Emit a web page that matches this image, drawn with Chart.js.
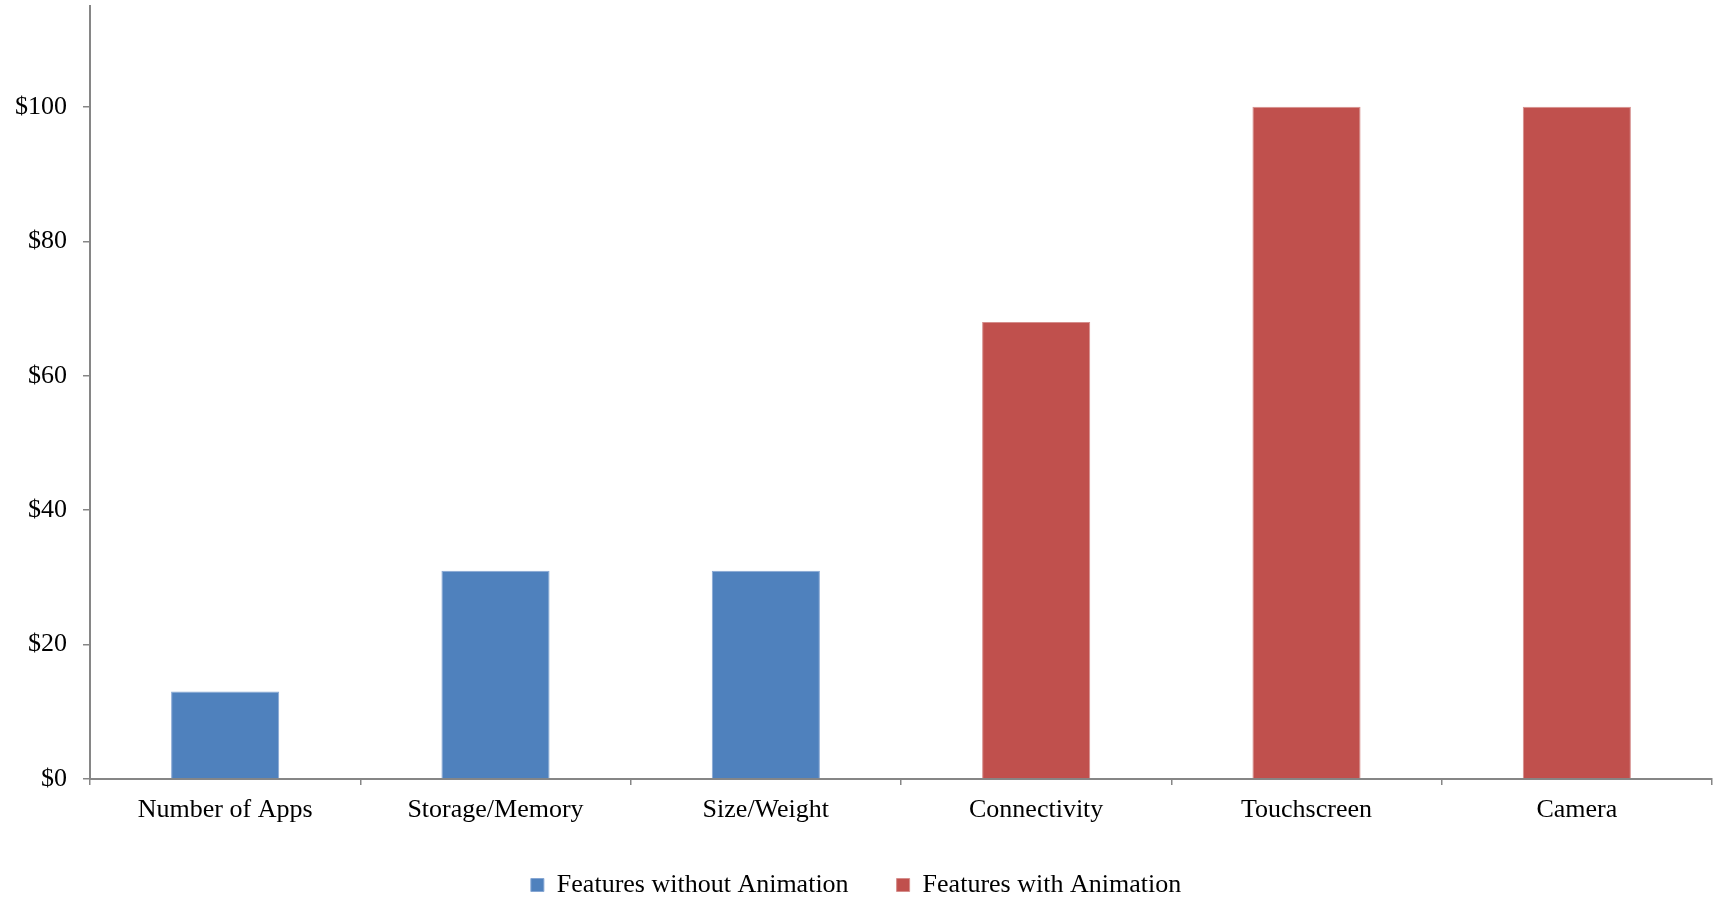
<!DOCTYPE html>
<html>
<head>
<meta charset="utf-8">
<script src="https://cdn.jsdelivr.net/npm/chart.js@4"></script>
<style>
  html, body { margin: 0; padding: 0; background: #fff; }
  #wrap { width: 1713px; height: 898px; }
</style>
</head>
<body>
<div id="wrap"><canvas id="featureChart"></canvas></div>
<script>
// Feature value in dollars, split into non-animated and animated features
const categories = ['Number of Apps', 'Storage/Memory', 'Size/Weight', 'Connectivity', 'Touchscreen', 'Camera'];
const withoutAnimation = [13, 31, 31, null, null, null];
const withAnimation = [null, null, null, 68, 100, 100];
const yTicks = [0, 20, 40, 60, 80, 100];

const serif = 'Liberation Serif, Times New Roman, serif';
const axisGrey = '#868686';

const ctx = document.getElementById('featureChart').getContext('2d');

const featureChart = new Chart(ctx, {
  type: 'bar',
  data: {
    labels: categories,
    datasets: [
      {
        label: 'Features without Animation',
        data: withoutAnimation,
        backgroundColor: '#4F81BD',
        borderColor: '#86A6D3',
        borderWidth: 1,
      },
      {
        label: 'Features with Animation',
        data: withAnimation,
        backgroundColor: '#C0504D',
        borderColor: '#D58E8C',
        borderWidth: 1,
      },
    ],
  },
  options: {
    responsive: true,
    maintainAspectRatio: false,
    animation: false,
    grouped: false,
    barPercentage: 0.4,
    categoryPercentage: 1.0,
    // legend sits a little lower than Chart.js places it by default
    layout: {
      padding: { left: 0, right: 1, top: 6, bottom: -10 },
    },
    plugins: {
      tooltip: { enabled: false },
      legend: {
        position: 'bottom',
        labels: {
          font: { family: serif, size: 26 },
          color: '#000',
          boxWidth: 13,
          boxHeight: 13,
          padding: 48,
        },
      },
    },
    scales: {
      x: {
        border: { color: axisGrey, width: 2 },
        grid: {
          drawOnChartArea: false,
          drawTicks: true,
          tickLength: 6,
          color: axisGrey,
          lineWidth: 1.5,
        },
        afterFit: (scale) => {
          scale.height = 45;
        },
        ticks: {
          font: { family: serif, size: 26 },
          color: '#000',
          padding: 10,
          maxRotation: 0,
        },
      },
      y: {
        min: 0,
        max: 115,
        border: { color: axisGrey, width: 2 },
        grid: {
          drawOnChartArea: false,
          drawTicks: true,
          tickLength: 7,
          color: axisGrey,
          lineWidth: 1.5,
        },
        afterBuildTicks: (scale) => {
          scale.ticks = yTicks.map((v) => ({ value: v }));
        },
        // fixed axis width, and no extra room above the plot for labels
        afterFit: (scale) => {
          scale.width = 90;
          scale.paddingTop = 0;
          scale.paddingBottom = 0;
        },
        ticks: {
          font: { family: serif, size: 26 },
          color: '#000',
          padding: 16,
          callback: (value) => '$' + value,
        },
      },
    },
  },
});
</script>
</body>
</html>
